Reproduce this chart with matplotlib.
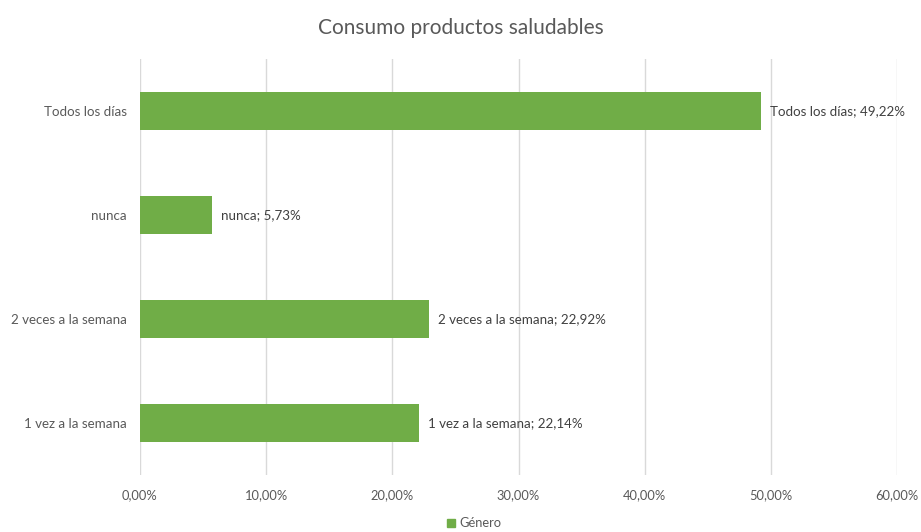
import matplotlib
matplotlib.use("Agg")
import matplotlib.pyplot as plt
from matplotlib.ticker import FuncFormatter
from matplotlib.patches import Patch

categories = ["1 vez a la semana", "2 veces a la semana", "nunca", "Todos los días"]
values = [22.14, 22.92, 5.73, 49.22]
series_name = "Género"
title = "Consumo productos saludables"
x_ticks = [0, 10, 20, 30, 40, 50, 60]

green = "#70AD47"
text_gray = "#595959"
grid_gray = "#D9D9D9"

plt.rcParams["font.family"] = ["Lato", "DejaVu Sans"]

fig = plt.figure(figsize=(9.21, 5.32), dpi=100)
ax = fig.add_axes([0.152, 0.107, 0.822, 0.782])

y = range(len(categories))
ax.barh(y, values, height=0.365, color=green, zorder=3)

def pct(v):
    return f"{v:.2f}".replace(".", ",") + "%"

for yi, cat, v in zip(y, categories, values):
    ax.text(v + 0.7, yi, f"{cat}; {pct(v)}", va="center", ha="left",
            fontsize=9.6, color="#404040", zorder=4)

ax.set_xlim(0, 60)
ax.set_ylim(-0.5, len(categories) - 0.5)
ax.set_xticks(x_ticks)
ax.xaxis.set_major_formatter(FuncFormatter(lambda v, _: pct(v)))
ax.set_yticks(list(y))
ax.set_yticklabels(categories)
ax.tick_params(axis="both", length=0, labelsize=9.6, colors=text_gray)
ax.tick_params(axis="x", labelsize=9.3, pad=10)
ax.tick_params(axis="y", pad=9.5)
ax.grid(axis="x", color=grid_gray, linewidth=1, zorder=0)
for s in ax.spines.values():
    s.set_visible(False)

fig.text(0.5, 0.947, title, ha="center", va="center", fontsize=15, color=text_gray)

fig.legend(handles=[Patch(color=green, label=series_name)], loc="center",
           bbox_to_anchor=(0.515, 0.016), frameon=False, fontsize=9.3,
           labelcolor=text_gray, handlelength=0.6, handleheight=0.6,
           handletextpad=0.4)

fig.savefig("out.png", dpi=100)
